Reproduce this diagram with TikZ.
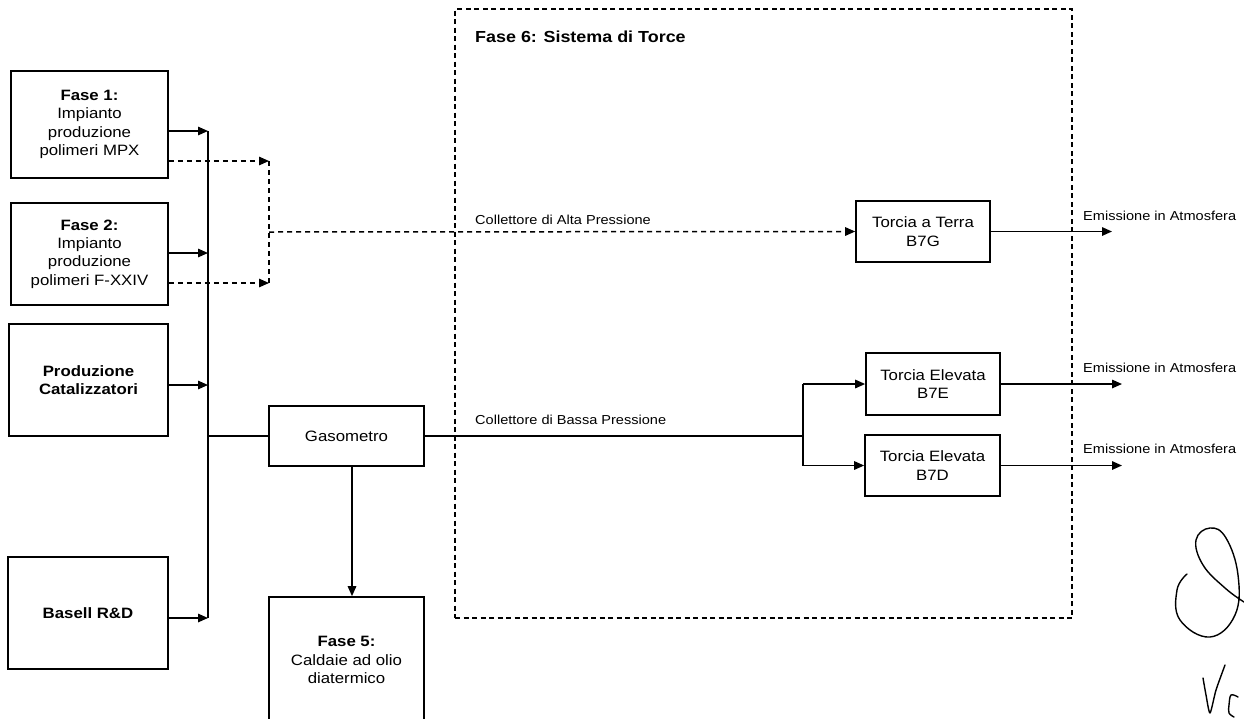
\documentclass[tikz,border=0pt]{standalone}
\usepackage{fontspec}
\setmainfont{Liberation Sans}[FakeStretch=1.12]
\usetikzlibrary{arrows.meta}
\tikzset{
  box/.style={draw, line width=1.7pt, inner sep=0pt, align=center, font=\fontsize{15}{18.3}\selectfont},
  frame/.style={draw, line width=1.3pt, dash pattern=on 5pt off 3.5pt, inner sep=0pt},
  lbl/.style={anchor=base west, inner sep=0pt, font=\fontsize{13}{15}\selectfont},
  head/.style={anchor=base west, inner sep=0pt, font=\fontsize{16}{19}\selectfont\bfseries},
  con/.style={line width=1.5pt},
  arr/.style={con, -{Triangle[length=10pt,width=8.5pt]}},
  dcon/.style={con, dash pattern=on 5pt off 4pt},
  darr/.style={dcon, -{Triangle[length=10pt,width=8.5pt]}},
  hand/.style={line width=1.4pt, line cap=round, line join=round}
}
\begin{document}
\begin{tikzpicture}[x=1pt,y=-1pt]
\clip (0,0) rectangle (1244,718);
\useasboundingbox (0,0) rectangle (1244,718);

% system frame
\node[frame, minimum width=617pt, minimum height=609pt] (sys) at (763.5,313.5) {};
\node[head] (h6) at (475,42) {Fase 6: Sistema di Torce};

% source boxes
\node[box, minimum width=157pt, minimum height=107pt] (f1) at (89.5,124.5) {\textbf{Fase 1:}\\Impianto\\produzione\\polimeri MPX};
\node[box, minimum width=157pt, minimum height=102pt] (f2) at (89.5,254) {\textbf{Fase 2:}\\Impianto\\produzione\\polimeri F-XXIV};
\node[box, minimum width=159pt, minimum height=112pt] (prod) at (88.5,380) {\textbf{Produzione}\\\textbf{Catalizzatori}};
\node[box, minimum width=160pt, minimum height=112pt] (bas) at (88,613) {\textbf{Basell R\&D}};

\node[box, minimum width=155pt, minimum height=60pt] (gas) at (346.5,436) {Gasometro};
\node[box, minimum width=155pt, minimum height=126pt] (f5) at (346.5,660) {\textbf{Fase 5:}\\Caldaie ad olio\\diatermico};

\node[box, minimum width=134pt, minimum height=61pt] (tt) at (923,231.5) {Torcia a Terra\\B7G};
\node[box, minimum width=134pt, minimum height=62pt] (b7e) at (933,384) {Torcia Elevata\\B7E};
\node[box, minimum width=135pt, minimum height=61pt] (b7d) at (932.5,465.5) {Torcia Elevata\\B7D};

% bus
\coordinate (bt) at (208,131);
\coordinate (b2) at (208,253);
\coordinate (b3) at (208,385);
\coordinate (bj) at (208,436);
\coordinate (bb) at (208,618);
\draw[con] (bt) -- (bb);
\draw[arr] (f1.east |- bt) -- (bt);
\draw[arr] (f2.east |- b2) -- (b2);
\draw[arr] (prod.east |- b3) -- (b3);
\draw[arr] (bas.east |- bb) -- (bb);
\draw[con] (bj) -- (gas.west);

% high pressure (dashed)
\coordinate (dt) at (269,161);
\coordinate (dm) at (269,232);
\coordinate (db) at (269,283);
\draw[darr] (f1.east |- dt) -- (dt);
\draw[darr] (f2.east |- db) -- (db);
\draw[dcon] (dt) -- (db);
\draw[darr] (dm) -- (tt.west);
\node[lbl] (lha) at (475,224) {Collettore di Alta Pressione};

% low pressure
\coordinate (sp) at (803,436);
\draw[con] (gas.east) -- (sp);
\draw[con] (sp |- b7e.west) -- (sp |- b7d.west);
\draw[arr] (sp |- b7e.west) -- (b7e.west);
\draw[arr] (sp |- b7d.west) -- (b7d.west);
\node[lbl] (lbp) at (475,424) {Collettore di Bassa Pressione};

% gasometro to fase 5
\draw[arr] ([xshift=5.5pt]gas.south) -- ([xshift=5.5pt]gas.south |- f5.north);

% emissions
\coordinate (e1) at (1112,231.5);
\coordinate (e2) at (1122,384);
\coordinate (e3) at (1122,465.5);
\draw[arr] (tt.east) -- (e1);
\draw[arr] (b7e.east) -- (e2);
\draw[arr] (b7d.east) -- (e3);
\node[lbl] (em1) at (1083,220) {Emissione in Atmosfera};
\node[lbl] (em2) at (1083,372) {Emissione in Atmosfera};
\node[lbl] (em3) at (1083,453) {Emissione in Atmosfera};

% handwritten mark
\draw[hand] plot[smooth, tension=0.7] coordinates {(1187,574) (1177,590) (1180,620) (1210,637) (1235,615) (1238,575) (1226,538) (1210,528) (1196,540) (1203,565) (1225,588) (1244,602)};
\draw[hand] plot[smooth, tension=0.4] coordinates {(1203,678) (1206,695) (1210,713) (1216,690) (1225,665)};
\draw[hand] plot[smooth, tension=0.6] coordinates {(1238,697) (1231,695) (1229,705) (1229,713) (1234,717)};
\end{tikzpicture}
\end{document}
